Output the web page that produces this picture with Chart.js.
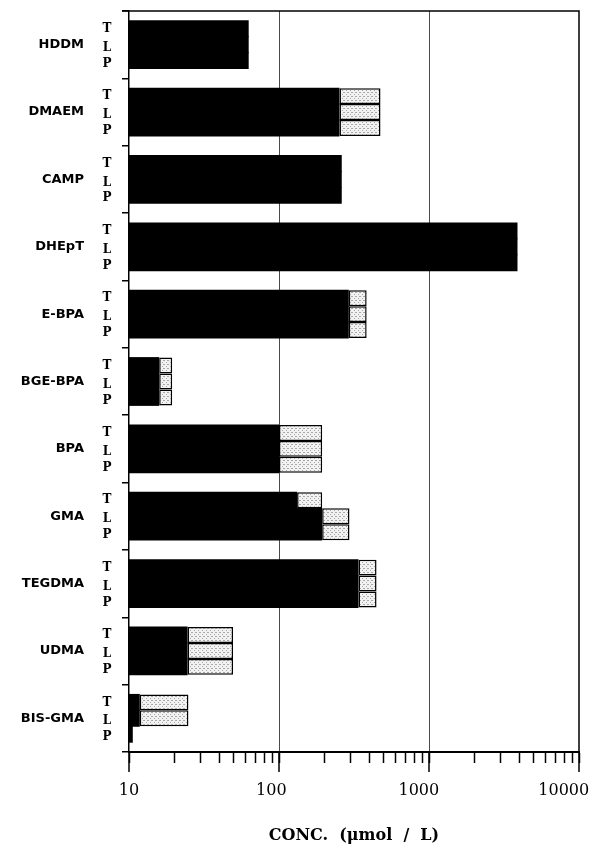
<!DOCTYPE html>
<html>
<head>
<meta charset="utf-8">
<script src="https://cdn.jsdelivr.net/npm/chart.js@4/dist/chart.umd.min.js"></script>
<style>
  html, body { margin: 0; padding: 0; background: #fff; }
  #wrap { width: 600px; height: 852px; }
</style>
</head>
<body>
<div id="wrap"><canvas id="chart" width="600" height="852"></canvas></div>
<script>
// Compounds, top to bottom
const categories = ['HDDM', 'DMAEM', 'CAMP', 'DHEpT', 'E-BPA', 'BGE-BPA', 'BPA', 'GMA', 'TEGDMA', 'UDMA', 'BIS-GMA'];
// Sub-rows within each compound
const subRows = ['T', 'L', 'P'];

// Solid (black) bar ends, µmol/L
const blackT = [62.8, 253, 262, 3890, 292, 15.9, 100, 132, 339, 24.6, 11.8];
const blackL = [62.8, 253, 262, 3890, 292, 15.9, 100, 194, 339, 24.6, 11.8];
const blackP = [62.8, 253, 262, 3890, 292, 15.9, 100, 194, 339, 24.6, 10.6];

// Stippled extension ends, µmol/L (null = no extension)
const stippleT = [null, 475, null, null, 384, 19.4, 194, 194, 447, 49.4, 24.9];
const stippleL = [null, 475, null, null, 384, 19.4, 194, 295, 447, 49.4, 24.9];
const stippleP = [null, 475, null, null, 384, 19.4, 194, 295, 447, 49.4, null];

// Labelled decades on the log axis, and the minor steps between them
const majorTicks = [10, 100, 1000, 10000];
const majorLabels = ['10', '100   ', '1000    ', '10000      '];
const minorSteps = [2, 3, 4, 5, 6, 7, 8, 9];

// Dotted fill for the stippled extensions
function makeStipple() {
  const c = document.createElement('canvas');
  c.width = 4; c.height = 4;
  const g = c.getContext('2d');
  g.fillStyle = '#f2f2f2';
  g.fillRect(0, 0, 4, 4);
  g.fillStyle = '#a8a8a8';
  [[0, 0], [2, 2], [3, 0]].forEach(([px, py]) => g.fillRect(px, py, 1, 1));
  return g.createPattern(c, 'repeat');
}
const stipple = makeStipple();

const lows = [blackT, blackL, blackP];
const highs = [stippleT, stippleL, stippleP];
const CAT_PCT = 0.71;

const datasets = [];
subRows.forEach((row, i) => {
  datasets.push({
    label: row,
    stack: row,
    data: lows[i],
    backgroundColor: '#000',
    borderWidth: 0,
    barPercentage: 1.06,
    categoryPercentage: CAT_PCT
  });
  datasets.push({
    label: row + ' range',
    stack: row,
    data: highs[i].map((h, j) => (h == null ? null : [lows[i][j], h])),
    backgroundColor: stipple,
    borderColor: '#000',
    borderWidth: 1.5,
    borderSkipped: false,
    barPercentage: 1,
    categoryPercentage: CAT_PCT
  });
});

const allTicks = [];
majorTicks.forEach((m, k) => {
  allTicks.push(m);
  if (k < majorTicks.length - 1) minorSteps.forEach(s => allTicks.push(m * s));
});

// Frame on top/right, long decade ticks and the T/L/P row letters
const extras = {
  id: 'extras',
  afterDraw(chart) {
    const { ctx, chartArea: a, scales: { x } } = chart;
    ctx.save();
    ctx.strokeStyle = '#000';
    ctx.lineWidth = 1.5;
    ctx.beginPath();
    ctx.moveTo(a.left - 7, a.top);
    ctx.lineTo(a.right, a.top);
    ctx.lineTo(a.right, a.bottom);
    majorTicks.forEach(v => {
      const px = x.getPixelForValue(v);
      ctx.moveTo(px, a.bottom);
      ctx.lineTo(px, a.bottom + 20);
    });
    ctx.stroke();

    ctx.fillStyle = '#000';
    ctx.font = 'bold 12px "DejaVu Serif"';
    ctx.textAlign = 'center';
    ctx.textBaseline = 'middle';
    subRows.forEach((row, i) => {
      chart.getDatasetMeta(i * 2).data.forEach(el => {
        ctx.fillText(row, a.left - 22, el.y + (i === 0 ? 0 : 3));
      });
    });
    ctx.restore();
  }
};

new Chart(document.getElementById('chart'), {
  type: 'bar',
  data: { labels: categories, datasets },
  options: {
    indexAxis: 'y',
    responsive: false,
    animation: false,
    layout: { padding: { top: 11, right: 21, bottom: 0, left: 0 } },
    plugins: { legend: { display: false }, tooltip: { enabled: false } },
    scales: {
      y: {
        type: 'category',
        position: 'left',
        grid: { offset: true, drawOnChartArea: false, tickLength: 7, color: '#000', lineWidth: 1.5 },
        border: { color: '#000', width: 1.5 },
        ticks: {
          autoSkip: false,
          padding: 38,
          color: '#000',
          font: { family: '"DejaVu Sans"', weight: 'bold', size: 13 }
        },
        afterFit(s) { s.width = 129; s.paddingTop = 0; s.paddingBottom = 0; }
      },
      x: {
        type: 'logarithmic',
        position: 'bottom',
        min: 10,
        max: 10000,
        stacked: false,
        afterBuildTicks(s) { s.ticks = allTicks.map(v => ({ value: v, major: majorTicks.includes(v) })); },
        grid: {
          color: c => (c.tick && (c.tick.value === 100 || c.tick.value === 1000)) ? '#4a4a4a' : 'rgba(0,0,0,0)',
          lineWidth: 1,
          tickLength: 11,
          tickColor: '#000',
          tickWidth: 1.5
        },
        border: { color: '#000', width: 2 },
        ticks: {
          autoSkip: false,
          maxRotation: 0,
          padding: 18,
          color: '#000',
          font: { family: '"DejaVu Serif"', size: 16 },
          callback: v => {
            const k = majorTicks.indexOf(v);
            return k >= 0 ? majorLabels[k] : '';
          }
        },
        title: {
          display: true,
          text: 'CONC.  (μmol  /  L)',
          color: '#000',
          font: { family: '"DejaVu Serif"', weight: 'bold', size: 16 },
          padding: { top: 0, bottom: 7 }
        },
        afterFit(s) { s.height = 100; s.paddingLeft = 0; s.paddingRight = 0; }
      }
    }
  },
  plugins: [extras]
});
</script>
</body>
</html>
